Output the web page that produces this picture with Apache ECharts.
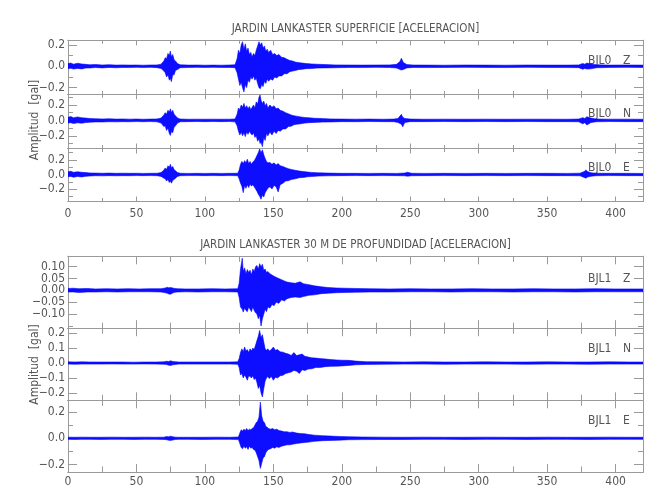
<!DOCTYPE html>
<html><head><meta charset="utf-8">
<script src="https://cdn.jsdelivr.net/npm/echarts@6/dist/echarts.min.js"></script>
<style>html,body{margin:0;padding:0;background:#fff}#c{width:650px;height:500px}</style>
</head><body><div id="c"></div>
<script>
// ---- texts ----
const titleTop = 'JARDIN LANKASTER SUPERFICIE [ACELERACION]';
const titleBottom = 'JARDIN LANKASTER 30 M DE PROFUNDIDAD [ACELERACION]';
const yTitle = 'Amplitud  [gal]';
const stations = ['BJL0', 'BJL0', 'BJL0', 'BJL1', 'BJL1', 'BJL1'];
const components = ['Z', 'N', 'E', 'Z', 'N', 'E'];

// ---- x ticks (seconds) ----
const xMajorTicks = [0, 50, 100, 150, 200, 250, 300, 350, 400];
const xMinorTicks = [25, 75, 125, 175, 225, 275, 325, 375];
const xRange = [0, 420];

// ---- y ranges and ticks per trace ----
const yRangeBjl0Z = [-0.262, 0.243];
const yRangeBjl0N = [-0.364, 0.338];
const yRangeBjl0E = [-0.371, 0.357];
const yRangeBjl1Z = [-0.160, 0.144];
const yRangeBjl1N = [-0.249, 0.233];
const yRangeBjl1E = [-0.257, 0.290];

const yMajorBjl0Z = [-0.2, 0, 0.2];          const yMinorBjl0Z = [-0.1, 0.1];
const yMajorBjl0N = [-0.2, 0, 0.2];          const yMinorBjl0N = [-0.3, -0.1, 0.1, 0.3];
const yMajorBjl0E = [-0.2, 0, 0.2];          const yMinorBjl0E = [-0.3, -0.1, 0.1, 0.3];
const yMajorBjl1Z = [-0.10, -0.05, 0, 0.05, 0.10]; const yMinorBjl1Z = [-0.15];
const yMajorBjl1N = [-0.2, -0.1, 0, 0.1, 0.2]; const yMinorBjl1N = [];
const yMajorBjl1E = [-0.2, 0, 0.2];          const yMinorBjl1E = [-0.1, 0.1];

// ---- traces: [time s, upper envelope gal, lower envelope gal] ----
const bjl0Z = [
[0,0.026,-0.022],[2,0.03,-0.018],[4,0.02,-0.026],[7,0.028,-0.02],[10,0.022,-0.025],[13,0.018,-0.016],[16,0.014,-0.016],[20,0.017,-0.012],[25,0.012,-0.015],[30,0.015,-0.011],[35,0.011,-0.014],[40,0.013,-0.011],[45,0.011,-0.012],[50,0.012,-0.01],[55,0.01,-0.012],[60,0.012,-0.01],[65,0.013,-0.013],[68,0.02,-0.02],
[70,0.05,-0.045],[71,0.08,-0.06],[72,0.07,-0.1],[73,0.12,-0.08],[74,0.1,-0.13],[74.7,0.143,-0.11],[75.5,0.09,-0.144],[76.5,0.11,-0.08],[77.5,0.06,-0.08],[78.5,0.05,-0.04],[80,0.025,-0.03],[82,0.014,-0.013],
[88,0.011,-0.012],[94,0.012,-0.01],[100,0.01,-0.011],[106,0.011,-0.01],[112,0.01,-0.011],[118,0.012,-0.011],[122,0.014,-0.013],
[123.5,0.07,-0.06],[124.5,0.15,-0.12],[125.5,0.12,-0.18],[126.5,0.2,-0.15],[127.5,0.23,-0.2],[128.5,0.16,-0.24],[129.5,0.21,-0.17],[130.5,0.14,-0.2],[131.5,0.17,-0.13],[132.5,0.11,-0.15],[133.5,0.13,-0.1],[134.5,0.09,-0.12],[135.5,0.12,-0.09],[136.5,0.1,-0.13],[137.5,0.15,-0.11],[138.5,0.19,-0.16],[139.5,0.23,-0.2],[140.5,0.2,-0.21],[141.5,0.22,-0.17],[142.5,0.17,-0.19],[143.5,0.19,-0.14],[144.5,0.14,-0.16],[145.5,0.16,-0.12],[146.5,0.13,-0.14],[148,0.15,-0.12],[149.5,0.11,-0.13],[151,0.12,-0.1],[152.5,0.1,-0.11],[154,0.11,-0.09],[156,0.085,-0.09],[158,0.08,-0.07],[160,0.065,-0.07],[162,0.055,-0.05],[164,0.05,-0.045],[166,0.04,-0.04],[168,0.035,-0.032],[171,0.03,-0.028],[174,0.026,-0.022],[178,0.022,-0.021],[182,0.019,-0.017],[188,0.016,-0.015],[195,0.013,-0.014],
[205,0.012,-0.011],[215,0.011,-0.012],[225,0.012,-0.01],[235,0.013,-0.012],[240,0.018,-0.016],[242.5,0.045,-0.03],[243.5,0.075,-0.035],[245,0.035,-0.03],[247.5,0.016,-0.015],[252,0.012,-0.011],[262,0.011,-0.012],[275,0.01,-0.011],[290,0.012,-0.01],[305,0.011,-0.011],[320,0.01,-0.012],[335,0.012,-0.01],[350,0.011,-0.011],[365,0.011,-0.012],[373,0.013,-0.013],[376,0.026,-0.028],[377.5,0.02,-0.02],[379,0.03,-0.026],[382,0.022,-0.024],[386,0.014,-0.014],[395,0.011,-0.011],[408,0.012,-0.01],[420,0.011,-0.011]
];
const bjl0N = [
[0,0.04,-0.035],[2,0.05,-0.03],[4,0.034,-0.04],[7,0.045,-0.032],[10,0.034,-0.036],[13,0.03,-0.028],[16,0.024,-0.024],[20,0.022,-0.02],[25,0.019,-0.021],[30,0.021,-0.017],[35,0.017,-0.019],[40,0.019,-0.016],[45,0.016,-0.018],[50,0.018,-0.015],[55,0.015,-0.017],[60,0.017,-0.015],[65,0.019,-0.019],[68,0.03,-0.035],
[70,0.07,-0.08],[71,0.1,-0.07],[72,0.08,-0.13],[73,0.13,-0.1],[74,0.11,-0.17],[74.8,0.15,-0.195],[75.6,0.1,-0.14],[76.5,0.13,-0.16],[77.5,0.08,-0.09],[78.5,0.06,-0.07],[80,0.03,-0.035],[82,0.018,-0.018],
[88,0.015,-0.016],[94,0.016,-0.015],[100,0.015,-0.016],[106,0.016,-0.015],[112,0.015,-0.016],[118,0.016,-0.015],[122,0.019,-0.019],
[123.5,0.08,-0.07],[124.5,0.16,-0.14],[125.5,0.14,-0.19],[126.5,0.2,-0.15],[127.5,0.17,-0.2],[128.5,0.22,-0.16],[129.5,0.16,-0.21],[130.5,0.19,-0.15],[131.5,0.15,-0.18],[132.5,0.18,-0.14],[133.5,0.14,-0.17],[134.5,0.17,-0.19],[135.5,0.2,-0.16],[136.5,0.16,-0.22],[137.5,0.24,-0.2],[138.5,0.21,-0.27],[139.5,0.3,-0.24],[140.3,0.33,-0.3],[141,0.26,-0.28],[142,0.22,-0.34],[143,0.25,-0.22],[144,0.19,-0.26],[145,0.22,-0.17],[146,0.16,-0.2],[147.5,0.2,-0.15],[149,0.17,-0.19],[150.5,0.19,-0.14],[152,0.15,-0.17],[153.5,0.16,-0.13],[155,0.13,-0.14],[157,0.12,-0.11],[159,0.1,-0.11],[161,0.085,-0.08],[163,0.07,-0.075],[165,0.06,-0.058],[167,0.055,-0.05],[170,0.045,-0.045],[173,0.038,-0.035],[176,0.034,-0.03],[180,0.028,-0.026],[186,0.023,-0.022],[192,0.019,-0.02],[200,0.017,-0.016],
[210,0.016,-0.017],[220,0.017,-0.015],[230,0.015,-0.016],[238,0.017,-0.017],[241,0.026,-0.026],[243.5,0.078,-0.05],[244.5,0.04,-0.083],[246,0.026,-0.026],[250,0.017,-0.016],[260,0.015,-0.016],[275,0.016,-0.015],[290,0.015,-0.016],[305,0.016,-0.015],[320,0.015,-0.016],[335,0.016,-0.015],[350,0.016,-0.016],[365,0.015,-0.016],[373,0.018,-0.018],[376,0.035,-0.045],[377.5,0.025,-0.03],[379,0.047,-0.06],[382,0.03,-0.028],[386,0.018,-0.018],[395,0.016,-0.015],[408,0.016,-0.016],[420,0.015,-0.016]
];
const bjl0E = [
[0,0.036,-0.03],[2,0.045,-0.026],[4,0.03,-0.038],[7,0.038,-0.028],[10,0.03,-0.034],[13,0.026,-0.025],[16,0.021,-0.021],[20,0.019,-0.017],[25,0.017,-0.019],[30,0.019,-0.016],[35,0.016,-0.018],[40,0.018,-0.016],[45,0.016,-0.017],[50,0.017,-0.015],[55,0.015,-0.016],[60,0.016,-0.015],[65,0.017,-0.017],[68,0.026,-0.026],
[70,0.06,-0.05],[71,0.09,-0.06],[72,0.07,-0.09],[73,0.12,-0.07],[74,0.1,-0.11],[74.8,0.14,-0.09],[75.6,0.09,-0.12],[76.5,0.11,-0.08],[77.5,0.07,-0.07],[78.5,0.05,-0.05],[80,0.026,-0.026],[82,0.017,-0.017],
[88,0.015,-0.015],[94,0.016,-0.015],[100,0.015,-0.016],[106,0.016,-0.015],[112,0.015,-0.016],[118,0.016,-0.015],[124,0.017,-0.017],
[125,0.06,-0.06],[126,0.14,-0.12],[127,0.18,-0.16],[128,0.15,-0.25],[129,0.19,-0.15],[130,0.16,-0.19],[131,0.21,-0.14],[132,0.15,-0.18],[133,0.18,-0.13],[134,0.14,-0.16],[135,0.17,-0.14],[136,0.19,-0.17],[137,0.22,-0.2],[138,0.26,-0.23],[139,0.3,-0.27],[140,0.35,-0.3],[141,0.3,-0.34],[142,0.34,-0.28],[143,0.27,-0.31],[144,0.22,-0.25],[145,0.18,-0.22],[146,0.16,-0.19],[147.5,0.165,-0.17],[149,0.14,-0.2],[150.5,0.16,-0.15],[152,0.13,-0.17],[153.5,0.15,-0.24],[155,0.12,-0.14],[157,0.11,-0.12],[159,0.094,-0.09],[161,0.08,-0.085],[163,0.07,-0.07],[166,0.058,-0.06],[169,0.048,-0.045],[172,0.04,-0.04],[175,0.034,-0.032],[178,0.028,-0.028],[183,0.023,-0.022],[190,0.019,-0.018],[200,0.016,-0.016],
[210,0.016,-0.015],[220,0.015,-0.016],[230,0.016,-0.015],[240,0.015,-0.016],[246,0.02,-0.018],[248,0.03,-0.024],[251,0.017,-0.017],[260,0.015,-0.016],[275,0.016,-0.015],[290,0.015,-0.016],[305,0.016,-0.015],[320,0.015,-0.016],[335,0.016,-0.015],[350,0.016,-0.016],[365,0.015,-0.016],[374,0.018,-0.018],[377,0.04,-0.04],[378.3,0.062,-0.052],[379.5,0.04,-0.035],[382,0.024,-0.024],[386,0.017,-0.017],[395,0.016,-0.015],[408,0.016,-0.016],[420,0.015,-0.016]
];
const bjl1Z = [
[0,0.008,-0.007],[4,0.009,-0.007],[8,0.007,-0.009],[14,0.008,-0.007],[20,0.006,-0.007],[28,0.007,-0.006],[36,0.006,-0.007],[44,0.007,-0.006],[52,0.006,-0.006],[60,0.007,-0.006],[68,0.007,-0.007],[71,0.01,-0.01],[72.5,0.013,-0.012],[73.5,0.011,-0.015],[75,0.012,-0.016],[76.5,0.01,-0.011],[78,0.008,-0.008],[80,0.007,-0.007],[86,0.006,-0.006],[95,0.006,-0.007],[105,0.007,-0.006],[115,0.006,-0.006],[124,0.007,-0.007],
[125,0.03,-0.03],[126,0.09,-0.07],[127.3,0.136,-0.08],[128,0.08,-0.092],[129,0.095,-0.075],[130,0.07,-0.085],[131,0.088,-0.09],[132,0.075,-0.07],[133,0.085,-0.08],[134,0.065,-0.09],[135,0.09,-0.07],[136,0.08,-0.085],[137,0.1,-0.095],[138,0.105,-0.1],[139,0.09,-0.12],[140,0.113,-0.105],[141,0.1,-0.151],[142,0.11,-0.12],[143,0.085,-0.1],[144,0.09,-0.08],[145,0.075,-0.09],[146,0.08,-0.07],[147.5,0.07,-0.075],[149,0.065,-0.06],[150.5,0.06,-0.065],[152,0.055,-0.05],[154,0.05,-0.055],[156,0.045,-0.04],[158,0.04,-0.045],[160,0.035,-0.035],[163,0.032,-0.03],[166,0.03,-0.028],[169.5,0.036,-0.03],[172,0.028,-0.026],[176,0.024,-0.021],[180,0.019,-0.019],[185,0.015,-0.014],[190,0.012,-0.012],[196,0.01,-0.01],[202,0.009,-0.009],
[210,0.008,-0.008],[220,0.007,-0.007],[235,0.006,-0.007],[250,0.007,-0.006],[265,0.006,-0.006],[280,0.006,-0.007],[295,0.007,-0.006],[310,0.006,-0.006],[325,0.006,-0.007],[340,0.007,-0.006],[355,0.006,-0.006],[370,0.006,-0.007],[385,0.007,-0.006],[400,0.006,-0.006],[420,0.006,-0.006]
];
const bjl1N = [
[0,0.008,-0.007],[5,0.007,-0.008],[10,0.008,-0.007],[16,0.007,-0.007],[24,0.007,-0.007],[32,0.007,-0.006],[40,0.007,-0.007],[48,0.006,-0.007],[56,0.007,-0.006],[64,0.007,-0.007],[70,0.008,-0.008],[72,0.012,-0.01],[73.5,0.01,-0.014],[75,0.015,-0.016],[76.5,0.011,-0.012],[78.5,0.009,-0.009],[81,0.007,-0.007],[88,0.007,-0.007],[98,0.007,-0.007],[108,0.007,-0.007],[118,0.007,-0.007],[124,0.008,-0.008],
[125,0.03,-0.03],[126,0.07,-0.08],[127,0.095,-0.07],[128,0.075,-0.1],[129,0.107,-0.08],[130,0.08,-0.095],[131,0.09,-0.115],[132,0.07,-0.085],[133,0.095,-0.09],[134,0.08,-0.1],[135,0.1,-0.085],[136,0.09,-0.11],[137,0.12,-0.1],[138,0.15,-0.13],[139,0.18,-0.17],[140,0.218,-0.15],[141,0.17,-0.2],[142,0.19,-0.227],[143,0.14,-0.17],[144,0.095,-0.12],[145,0.085,-0.1],[146,0.095,-0.09],[147,0.08,-0.104],[148.5,0.09,-0.09],[150,0.107,-0.115],[151.5,0.085,-0.095],[153,0.09,-0.1],[155,0.075,-0.085],[157,0.073,-0.082],[159,0.065,-0.07],[161,0.06,-0.065],[163,0.051,-0.06],[165,0.07,-0.049],[167,0.05,-0.055],[169,0.055,-0.07],[171,0.06,-0.045],[173,0.045,-0.05],[175.5,0.04,-0.04],[178,0.035,-0.038],[181,0.033,-0.03],[184,0.03,-0.03],[188,0.027,-0.024],[192,0.023,-0.022],[196,0.021,-0.021],[200,0.019,-0.019],[205,0.018,-0.016],[210,0.013,-0.012],[218,0.009,-0.009],
[230,0.008,-0.008],[245,0.007,-0.007],[260,0.008,-0.007],[275,0.007,-0.008],[290,0.007,-0.007],[305,0.008,-0.007],[320,0.007,-0.007],[335,0.007,-0.008],[350,0.008,-0.007],[365,0.007,-0.007],[380,0.007,-0.008],[395,0.008,-0.007],[410,0.007,-0.007],[420,0.007,-0.007]
];
const bjl1E = [
[0,0.009,-0.008],[5,0.008,-0.009],[10,0.009,-0.008],[16,0.008,-0.008],[24,0.008,-0.009],[32,0.009,-0.008],[40,0.008,-0.008],[48,0.008,-0.009],[56,0.009,-0.008],[64,0.008,-0.008],[70,0.009,-0.009],[72,0.013,-0.011],[73.5,0.011,-0.015],[75,0.016,-0.016],[76.5,0.012,-0.013],[78.5,0.009,-0.009],[81,0.008,-0.008],[88,0.008,-0.008],[98,0.008,-0.009],[108,0.009,-0.008],[118,0.008,-0.008],[124.5,0.01,-0.01],
[125.5,0.04,-0.04],[126.5,0.065,-0.07],[127.5,0.055,-0.08],[128.5,0.07,-0.06],[129.5,0.06,-0.075],[130.5,0.075,-0.065],[131.5,0.06,-0.085],[132.5,0.07,-0.06],[133.5,0.065,-0.075],[134.5,0.075,-0.07],[135.5,0.08,-0.085],[136.5,0.1,-0.09],[137.5,0.12,-0.11],[138.5,0.13,-0.14],[139.5,0.16,-0.17],[140.5,0.277,-0.23],[141.5,0.17,-0.19],[142.5,0.13,-0.15],[143.5,0.12,-0.14],[144.5,0.09,-0.11],[145.5,0.085,-0.095],[146.5,0.075,-0.085],[148,0.07,-0.079],[149.5,0.074,-0.07],[151,0.065,-0.075],[152.5,0.07,-0.065],[154,0.06,-0.07],[156,0.055,-0.06],[158,0.05,-0.055],[160,0.05,-0.05],[162,0.045,-0.05],[164,0.048,-0.045],[167,0.04,-0.04],[170,0.036,-0.035],[173,0.034,-0.032],[176,0.029,-0.029],[180,0.024,-0.023],[186,0.02,-0.018],[192,0.017,-0.016],[198,0.014,-0.014],[205,0.012,-0.011],[215,0.01,-0.01],
[230,0.009,-0.009],[245,0.008,-0.009],[260,0.009,-0.008],[275,0.008,-0.008],[290,0.008,-0.009],[305,0.009,-0.008],[320,0.008,-0.008],[335,0.008,-0.009],[350,0.009,-0.008],[365,0.008,-0.008],[380,0.008,-0.009],[395,0.009,-0.008],[410,0.008,-0.008],[420,0.008,-0.008]
];

// ---- layout (pixels) ----
const FONT = "'Liberation Sans Narrow','DejaVu Sans Condensed','Liberation Sans',sans-serif";
const TXT = '#555555';
const AX = '#9a9a9a';
const BLUE = '#0000ff';
const PLOT_LEFT = 68, PLOT_RIGHT = 7;

const panels = [
  {data: bjl0Z, range: yRangeBjl0Z, major: yMajorBjl0Z, minor: yMinorBjl0Z, dec: 1, top: 40.3, bottom: 94.3, xLab: false, xt: [5, 3.5], labY: 21},
  {data: bjl0N, range: yRangeBjl0N, major: yMajorBjl0N, minor: yMinorBjl0N, dec: 1, top: 94.3, bottom: 148.5, xLab: false, xt: [5, 3.5], labY: 20},
  {data: bjl0E, range: yRangeBjl0E, major: yMajorBjl0E, minor: yMinorBjl0E, dec: 1, top: 148.5, bottom: 201.5, xLab: true, xt: [5, 3.5], labY: 19},
  {data: bjl1Z, range: yRangeBjl1Z, major: yMajorBjl1Z, minor: yMinorBjl1Z, dec: 2, top: 256.3, bottom: 328.2, xLab: false, xt: [8, 5.5], labY: 22.5},
  {data: bjl1N, range: yRangeBjl1N, major: yMajorBjl1N, minor: yMinorBjl1N, dec: 1, top: 328.2, bottom: 400.3, xLab: false, xt: [8, 5.5], labY: 21},
  {data: bjl1E, range: yRangeBjl1E, major: yMajorBjl1E, minor: yMinorBjl1E, dec: 1, top: 400.3, bottom: 472, xLab: true, xt: [8, 5.5], labY: 21}
];

const fmtY = (dec) => (v) => (v < -1e-9 ? '\u2212' : '') + Math.abs(v).toFixed(dec);

const grid = [], xAxis = [], yAxis = [], series = [], graphic = [];
panels.forEach((p, i) => {
  grid.push({left: PLOT_LEFT, right: PLOT_RIGHT, top: p.top, height: p.bottom - p.top});
  const line = {show: true, onZero: false, lineStyle: {color: AX, width: 1}};
  const mkX = (pos, vals, len, lab) => ({
    gridIndex: i, type: 'value', min: xRange[0], max: xRange[1], position: pos,
    axisLine: line, splitLine: {show: false},
    axisTick: {show: true, inside: true, length: len, customValues: vals, lineStyle: {color: AX, width: 1}},
    axisLabel: {show: lab, customValues: vals, margin: i < 3 ? 6 : 4, color: TXT, fontFamily: FONT, fontSize: 12}
  });
  xAxis.push(mkX('bottom', xMajorTicks, p.xt[0], p.xLab));
  xAxis.push(mkX('bottom', xMinorTicks, p.xt[1], false));
  xAxis.push(mkX('top', xMajorTicks, p.xt[0], false));
  xAxis.push(mkX('top', xMinorTicks, p.xt[1], false));
  const mkY = (pos, vals, len, lab) => ({
    gridIndex: i, type: 'value', min: p.range[0], max: p.range[1], position: pos,
    axisLine: line, splitLine: {show: false},
    axisTick: {show: vals.length > 0, inside: true, length: len, customValues: vals.length ? vals : [p.range[0]], lineStyle: {color: AX, width: 1}},
    axisLabel: {show: lab, customValues: vals, margin: 3, color: TXT, fontFamily: FONT, fontSize: 12, formatter: fmtY(p.dec)}
  });
  yAxis.push(mkY('left', p.major, 9, true));
  yAxis.push(mkY('left', p.minor, 5, false));
  yAxis.push(mkY('right', p.major, 9, false));
  yAxis.push(mkY('right', p.minor, 5, false));
  // envelope band: upper points forward, lower points backward, mapped through the axes
  const rows = p.data;
  series.push({
    type: 'custom', xAxisIndex: 4 * i, yAxisIndex: 4 * i, z: 5, silent: true, animation: false,
    encode: {x: 0, y: [1, 2]},
    data: rows,
    renderItem: (params, api) => {
      if (params.dataIndex !== 0) return null;
      const pts = [];
      for (const r of rows) pts.push(api.coord([r[0], r[1]]));
      for (let k = rows.length - 1; k >= 0; k--) pts.push(api.coord([rows[k][0], rows[k][2]]));
      const cs = params.coordSys;
      return {
        type: 'group',
        clipPath: {type: 'rect', shape: {x: cs.x, y: cs.y, width: cs.width, height: cs.height}},
        children: [{type: 'polygon', shape: {points: pts},
          style: {fill: BLUE, stroke: BLUE, lineWidth: 0.6, opacity: 0.95}}]
      };
    }
  });
  graphic.push({type: 'text', x: 588, y: p.top + p.labY, z: 0,
    style: {text: stations[i], fill: TXT, font: '12px ' + FONT, textAlign: 'left', textVerticalAlign: 'middle'}});
  graphic.push({type: 'text', x: 623, y: p.top + p.labY, z: 0,
    style: {text: components[i], fill: TXT, font: '12px ' + FONT, textAlign: 'left', textVerticalAlign: 'middle'}});
});
graphic.push({type: 'text', x: 355.5, y: 29, z: 0, style: {text: titleTop, fill: TXT, font: '11.5px ' + FONT, textAlign: 'center', textVerticalAlign: 'middle'}});
graphic.push({type: 'text', x: 355.5, y: 245, z: 0, style: {text: titleBottom, fill: TXT, font: '11.5px ' + FONT, textAlign: 'center', textVerticalAlign: 'middle'}});
graphic.push({type: 'text', x: 35, y: 120, rotation: Math.PI / 2, z: 0, style: {text: yTitle, fill: TXT, font: '12px ' + FONT, textAlign: 'center', textVerticalAlign: 'middle'}});
graphic.push({type: 'text', x: 35, y: 364.5, rotation: Math.PI / 2, z: 0, style: {text: yTitle, fill: TXT, font: '12px ' + FONT, textAlign: 'center', textVerticalAlign: 'middle'}});

const chart = echarts.init(document.getElementById('c'), null, {renderer: 'canvas', width: 650, height: 500});
chart.setOption({backgroundColor: '#ffffff', animation: false, grid, xAxis, yAxis, series, graphic});
</script>
</body></html>
